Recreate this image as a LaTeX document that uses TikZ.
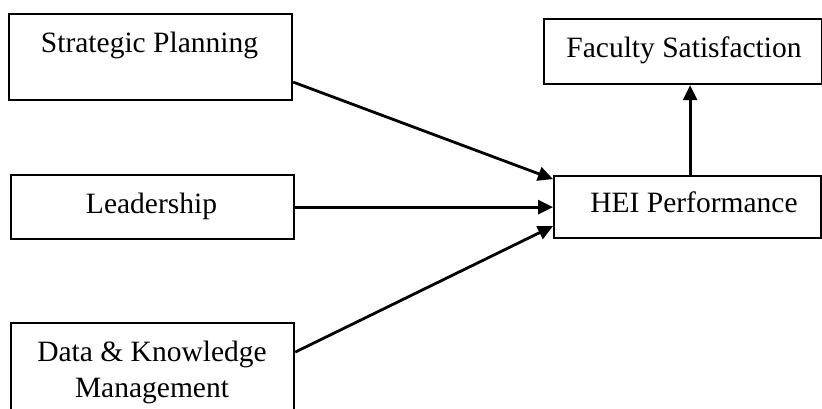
\documentclass[tikz,border=0pt]{standalone}
\usepackage{fontspec}
\setmainfont{Liberation Serif}
\usetikzlibrary{arrows.meta}
\begin{document}
\begin{tikzpicture}[x=1pt,y=-1pt,
  box/.style={draw,line width=2.2pt,rectangle,inner sep=0pt,anchor=north west},
  lbl/.style={inner sep=0pt,anchor=base,font=\fontsize{29.5}{36}\selectfont},
  arr/.style={line width=2.8pt,-{Triangle[length=15pt,width=14pt]}}]
\useasboundingbox (0,0) rectangle (822,408);
\node[box,minimum width=283pt,minimum height=86pt] (sp) at (8,13) {};
\node[box,minimum width=283pt,minimum height=64pt] (ld) at (10,174) {};
\node[box,minimum width=283pt,minimum height=98pt] (dk) at (10,322) {};
\node[box,minimum width=267pt,minimum height=62pt] (hei) at (553,175) {};
\node[box,minimum width=278pt,minimum height=65pt] (fs) at (543,18) {};
\node[lbl] (spt) at (149.5,52) {Strategic Planning};
\node[lbl] (ldt) at (151.5,213) {Leadership};
\node[lbl] (dkt1) at (152,361) {Data \& Knowledge};
\node[lbl] (dkt2) at (152,397) {Management};
\node[lbl] (heit) at (694,212) {HEI Performance};
\node[lbl] (fst) at (684,57) {Faculty Satisfaction};
\draw[arr] ([yshift=-25pt]sp.east) -- ([yshift=28pt]hei.west);
\draw[arr] (ld.east) -- (hei.west);
\draw[arr] ([yshift=20pt]dk.east) -- ([yshift=-19pt]hei.west);
\draw[arr] ([xshift=2.5pt]hei.north) -- ([xshift=2.5pt]hei.north |- fs.south);
\end{tikzpicture}
\end{document}
